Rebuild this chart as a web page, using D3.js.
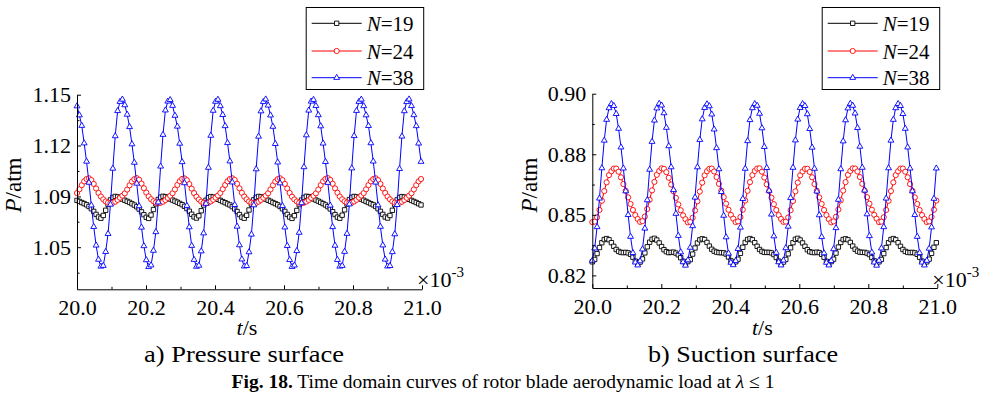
<!DOCTYPE html>
<html>
<head>
<meta charset="utf-8">
<script src="https://cdn.jsdelivr.net/npm/d3@7"></script>
<style>
  body { margin: 0; background: #fff; }
  svg { display: block; font-family: "Liberation Serif", "Times New Roman", serif; }
</style>
</head>
<body>
<svg id="chart" width="987" height="402"></svg>
<script>
// Sampling grid of the time series (time in units of 10^-3 s)
const T_START = 20.0;
const T_STEP = 0.006925;

const legendNumbers = ["19", "24", "38"];

const xTickValues = [20.0, 20.2, 20.4, 20.6, 20.8, 21.0];
const xTickLabels = ["20.0", "20.2", "20.4", "20.6", "20.8", "21.0"];
const xMinorValues = [20.1, 20.3, 20.5, 20.7, 20.9];

const yTicksA = [1.1520, 1.1187, 1.0853, 1.0520];
const yTickLabelsA = ["1.15", "1.12", "1.09", "1.05"];
const yMinorA = [1.1353, 1.1020, 1.0687, 1.0353];

const yTicksB = [0.900, 0.875, 0.850, 0.825];
const yTickLabelsB = ["0.90", "0.88", "0.85", "0.82"];
const yMinorB = [0.8875, 0.8625, 0.8375];

// Pressure surface, P / atm
const pressureN19 = [
  1.0827,1.0820,1.0813,1.0806,1.0798,1.0787,1.0772,1.0755,1.0735,1.0718,1.0710,1.0728,1.0762,1.0800,1.0830,1.0846,1.0853,1.0850,1.0843,1.0835,
  1.0828,1.0821,1.0814,1.0805,1.0796,1.0785,1.0770,1.0752,1.0733,1.0716,1.0709,1.0731,1.0767,1.0804,1.0833,1.0848,1.0854,1.0851,1.0844,1.0836,
  1.0829,1.0822,1.0815,1.0807,1.0799,1.0788,1.0773,1.0756,1.0736,1.0719,1.0711,1.0726,1.0759,1.0797,1.0828,1.0845,1.0852,1.0849,1.0842,1.0834,
  1.0827,1.0819,1.0812,1.0804,1.0797,1.0786,1.0771,1.0754,1.0734,1.0717,1.0710,1.0729,1.0764,1.0802,1.0831,1.0847,1.0853,1.0850,1.0843,1.0835,
  1.0828,1.0821,1.0813,1.0806,1.0798,1.0787,1.0772,1.0755,1.0735,1.0718,1.0709,1.0727,1.0761,1.0799,1.0829,1.0846,1.0854,1.0851,1.0844,1.0836,
  1.0829,1.0822,1.0814,1.0806,1.0797,1.0786,1.0771,1.0753,1.0734,1.0717,1.0710,1.0730,1.0765,1.0803,1.0832,1.0847,1.0853,1.0850,1.0843,1.0835,
  1.0828,1.0820,1.0813,1.0805,1.0798,1.0787,1.0772,1.0755,1.0735,1.0718,1.0711,1.0728,1.0762,1.0800,1.0830,1.0846,1.0852,1.0849,1.0842,1.0834,
  1.0827,1.0820,1.0813,1.0805,1.0797
];
const pressureN24 = [
  1.0875,1.0900,1.0927,1.0952,1.0967,1.0972,1.0960,1.0935,1.0905,1.0876,1.0852,1.0834,1.0820,1.0812,1.0809,1.0812,1.0819,1.0830,1.0844,1.0858,
  1.0873,1.0898,1.0926,1.0951,1.0966,1.0973,1.0962,1.0937,1.0907,1.0878,1.0853,1.0835,1.0821,1.0813,1.0810,1.0811,1.0818,1.0829,1.0843,1.0857,
  1.0874,1.0899,1.0928,1.0953,1.0968,1.0971,1.0959,1.0934,1.0904,1.0875,1.0851,1.0833,1.0819,1.0811,1.0808,1.0812,1.0820,1.0831,1.0845,1.0859,
  1.0876,1.0901,1.0928,1.0952,1.0967,1.0972,1.0961,1.0936,1.0906,1.0877,1.0852,1.0834,1.0820,1.0812,1.0809,1.0811,1.0819,1.0830,1.0844,1.0858,
  1.0874,1.0899,1.0926,1.0951,1.0966,1.0972,1.0960,1.0935,1.0905,1.0876,1.0851,1.0833,1.0820,1.0812,1.0809,1.0812,1.0819,1.0830,1.0843,1.0857,
  1.0873,1.0898,1.0927,1.0952,1.0968,1.0973,1.0961,1.0936,1.0906,1.0877,1.0852,1.0834,1.0821,1.0813,1.0810,1.0812,1.0820,1.0831,1.0845,1.0859,
  1.0875,1.0900,1.0927,1.0952,1.0967,1.0972,1.0960,1.0935,1.0905,1.0876,1.0852,1.0834,1.0820,1.0812,1.0809,1.0811,1.0818,1.0829,1.0844,1.0858,
  1.0874,1.0899,1.0927,1.0952,1.0967
];
const pressureN38 = [
  1.1445,1.1386,1.1317,1.1202,1.1082,1.0944,1.0795,1.0654,1.0532,1.0439,1.0394,1.0399,1.0490,1.0608,1.0800,1.1036,1.1249,1.1414,1.1474,1.1489,
  1.1452,1.1390,1.1309,1.1196,1.1075,1.0938,1.0790,1.0650,1.0528,1.0436,1.0391,1.0402,1.0498,1.0620,1.0815,1.1050,1.1258,1.1418,1.1476,1.1486,
  1.1448,1.1383,1.1312,1.1200,1.1079,1.0941,1.0792,1.0652,1.0530,1.0438,1.0393,1.0400,1.0494,1.0612,1.0806,1.1042,1.1252,1.1416,1.1475,1.1488,
  1.1446,1.1388,1.1315,1.1204,1.1084,1.0946,1.0798,1.0656,1.0534,1.0441,1.0395,1.0398,1.0488,1.0604,1.0796,1.1032,1.1246,1.1412,1.1473,1.1490,
  1.1450,1.1385,1.1311,1.1198,1.1077,1.0940,1.0791,1.0651,1.0529,1.0437,1.0392,1.0401,1.0496,1.0616,1.0810,1.1046,1.1255,1.1417,1.1476,1.1487,
  1.1447,1.1387,1.1314,1.1201,1.1080,1.0943,1.0794,1.0653,1.0531,1.0438,1.0394,1.0399,1.0491,1.0609,1.0802,1.1038,1.1250,1.1415,1.1474,1.1489,
  1.1446,1.1386,1.1316,1.1203,1.1083,1.0945,1.0796,1.0655,1.0533,1.0440,1.0395,1.0398,1.0489,1.0606,1.0798,1.1034,1.1247,1.1413,1.1473,1.1490,
  1.1447,1.1387,1.1315,1.1201,1.1081
];

// Suction surface, P / atm
const suctionN19 = [
  0.8306,0.8316,0.8340,0.8365,0.8385,0.8398,0.8402,0.8397,0.8385,0.8370,0.8357,0.8349,0.8345,0.8344,0.8345,0.8343,0.8337,0.8325,0.8309,0.8298,
  0.8305,0.8318,0.8343,0.8368,0.8387,0.8399,0.8403,0.8396,0.8384,0.8369,0.8356,0.8348,0.8344,0.8345,0.8346,0.8342,0.8335,0.8323,0.8308,0.8297,
  0.8307,0.8315,0.8338,0.8363,0.8384,0.8397,0.8401,0.8398,0.8386,0.8371,0.8358,0.8350,0.8346,0.8344,0.8344,0.8343,0.8338,0.8326,0.8310,0.8299,
  0.8306,0.8317,0.8341,0.8366,0.8386,0.8398,0.8402,0.8397,0.8385,0.8370,0.8357,0.8349,0.8345,0.8345,0.8345,0.8343,0.8336,0.8324,0.8309,0.8298,
  0.8305,0.8316,0.8339,0.8364,0.8385,0.8399,0.8403,0.8396,0.8384,0.8370,0.8356,0.8348,0.8345,0.8344,0.8346,0.8344,0.8337,0.8325,0.8308,0.8297,
  0.8307,0.8317,0.8342,0.8367,0.8386,0.8398,0.8401,0.8397,0.8386,0.8371,0.8358,0.8350,0.8346,0.8345,0.8345,0.8342,0.8336,0.8324,0.8310,0.8299,
  0.8306,0.8316,0.8340,0.8365,0.8385,0.8398,0.8402,0.8397,0.8385,0.8370,0.8357,0.8349,0.8345,0.8344,0.8345,0.8343,0.8337,0.8325,0.8309,0.8298,
  0.8306,0.8317,0.8341,0.8366,0.8385
];
const suctionN24 = [
  0.8470,0.8472,0.8490,0.8520,0.8558,0.8598,0.8634,0.8664,0.8680,0.8691,0.8691,0.8678,0.8655,0.8627,0.8599,0.8572,0.8545,0.8520,0.8499,0.8483,
  0.8471,0.8474,0.8493,0.8524,0.8562,0.8601,0.8636,0.8665,0.8681,0.8692,0.8690,0.8676,0.8653,0.8625,0.8597,0.8570,0.8543,0.8519,0.8498,0.8482,
  0.8469,0.8471,0.8488,0.8518,0.8556,0.8596,0.8633,0.8663,0.8680,0.8690,0.8691,0.8679,0.8656,0.8628,0.8600,0.8573,0.8546,0.8521,0.8500,0.8484,
  0.8470,0.8473,0.8491,0.8521,0.8559,0.8599,0.8635,0.8664,0.8681,0.8691,0.8692,0.8678,0.8654,0.8626,0.8598,0.8571,0.8544,0.8520,0.8499,0.8483,
  0.8471,0.8472,0.8489,0.8519,0.8557,0.8597,0.8633,0.8663,0.8679,0.8690,0.8690,0.8677,0.8655,0.8627,0.8599,0.8572,0.8545,0.8520,0.8499,0.8482,
  0.8469,0.8473,0.8492,0.8522,0.8560,0.8600,0.8635,0.8665,0.8681,0.8692,0.8691,0.8679,0.8656,0.8628,0.8600,0.8573,0.8546,0.8521,0.8500,0.8484,
  0.8470,0.8472,0.8490,0.8520,0.8558,0.8598,0.8634,0.8664,0.8680,0.8691,0.8691,0.8678,0.8655,0.8627,0.8599,0.8572,0.8545,0.8520,0.8499,0.8483,
  0.8470,0.8473,0.8491,0.8521,0.8559
];
const suctionN38 = [
  0.8311,0.8362,0.8450,0.8568,0.8693,0.8807,0.8893,0.8941,0.8958,0.8950,0.8917,0.8856,0.8779,0.8692,0.8598,0.8500,0.8410,0.8343,0.8304,0.8292,
  0.8309,0.8358,0.8444,0.8561,0.8687,0.8802,0.8890,0.8940,0.8959,0.8952,0.8920,0.8860,0.8784,0.8697,0.8603,0.8505,0.8414,0.8346,0.8305,0.8291,
  0.8313,0.8365,0.8454,0.8572,0.8697,0.8810,0.8895,0.8942,0.8957,0.8949,0.8915,0.8853,0.8776,0.8689,0.8595,0.8497,0.8408,0.8341,0.8303,0.8293,
  0.8310,0.8360,0.8448,0.8566,0.8691,0.8805,0.8892,0.8941,0.8958,0.8951,0.8918,0.8858,0.8781,0.8694,0.8600,0.8502,0.8412,0.8344,0.8305,0.8292,
  0.8312,0.8363,0.8452,0.8570,0.8695,0.8808,0.8894,0.8942,0.8958,0.8950,0.8916,0.8855,0.8778,0.8691,0.8597,0.8499,0.8409,0.8342,0.8303,0.8292,
  0.8310,0.8359,0.8446,0.8563,0.8689,0.8804,0.8891,0.8940,0.8959,0.8951,0.8919,0.8859,0.8782,0.8695,0.8601,0.8503,0.8413,0.8345,0.8304,0.8291,
  0.8311,0.8362,0.8450,0.8568,0.8693,0.8807,0.8893,0.8941,0.8958,0.8950,0.8917,0.8856,0.8779,0.8692,0.8598,0.8500,0.8410,0.8343,0.8304,0.8292,
  0.8311,0.8361,0.8449,0.8567,0.8692
];

const seriesColors = ["#000000", "#ff0000", "#0000ff"];
const seriesSymbols = [d3.symbolSquare, d3.symbolCircle, d3.symbolTriangle];
const symbolSizes = [19, 21, 15];

const panels = [
  {
    x0: 77, x1: 422, yTop: 94.7, yBot: 289.3,
    yDomain: [1.0244, 1.152], yTicks: yTicksA, yLabels: yTickLabelsA, yMinor: yMinorA,
    series: [pressureN19, pressureN24, pressureN38],
    legendX: 305.7, titleX: 21, caption: "a) Pressure surface", captionX: 244, captionW: 200
  },
  {
    x0: 592.3, x1: 937.3, yTop: 93.7, yBot: 288,
    yDomain: [0.8198, 0.90], yTicks: yTicksB, yLabels: yTickLabelsB, yMinor: yMinorB,
    series: [suctionN19, suctionN24, suctionN38],
    legendX: 821.7, titleX: 536.5, caption: "b) Suction surface", captionX: 743, captionW: 190
  }
];

const svg = d3.select("#chart");
const SERIF = "'Liberation Serif', 'Times New Roman', serif";
const TICK_FONT = 22;
const LEGEND_FONT = 21;

panels.forEach(p => {
  const g = svg.append("g");
  const x = d3.scaleLinear().domain([20, 21]).range([p.x0, p.x1]);
  const y = d3.scaleLinear().domain(p.yDomain).range([p.yBot, p.yTop]);

  // series: line + hollow markers, N=19 first so N=38 sits on top
  p.series.forEach((vals, si) => {
    const pts = vals.map((v, i) => [T_START + i * T_STEP, v]);
    const line = d3.line().x(d => x(d[0])).y(d => y(d[1]));
    g.append("path")
      .attr("d", line(pts))
      .attr("fill", "none")
      .attr("stroke", seriesColors[si])
      .attr("stroke-width", 1);
    const sym = d3.symbol().type(seriesSymbols[si]).size(symbolSizes[si]);
    g.append("g").selectAll("path")
      .data(pts)
      .join("path")
      .attr("transform", d => `translate(${x(d[0])},${y(d[1])})`)
      .attr("d", sym)
      .attr("fill", "#fff")
      .attr("stroke", seriesColors[si])
      .attr("stroke-width", 0.9);
  });

  // axes with inward ticks
  g.append("g")
    .attr("transform", `translate(0,${p.yBot})`)
    .call(d3.axisBottom(x).tickValues(xTickValues)
      .tickFormat((d, i) => xTickLabels[i])
      .tickSizeInner(-4).tickSizeOuter(0).tickPadding(10));
  g.append("g")
    .attr("transform", `translate(0,${p.yBot})`)
    .call(d3.axisBottom(x).tickValues(xMinorValues).tickFormat(() => "")
      .tickSizeInner(-2.5).tickSizeOuter(0))
    .call(a => a.select(".domain").remove());

  g.append("g")
    .attr("transform", `translate(${p.x0},0)`)
    .call(d3.axisLeft(y).tickValues(p.yTicks)
      .tickFormat((d, i) => p.yLabels[i])
      .tickSizeInner(-4).tickSizeOuter(0).tickPadding(6));
  g.append("g")
    .attr("transform", `translate(${p.x0},0)`)
    .call(d3.axisLeft(y).tickValues(p.yMinor).tickFormat(() => "")
      .tickSizeInner(-2.5).tickSizeOuter(0))
    .call(a => a.select(".domain").remove());

  g.selectAll(".tick text")
    .style("font-family", SERIF)
    .style("font-size", TICK_FONT + "px")
    .attr("fill", "#000");
  g.selectAll(".domain, .tick line").attr("stroke", "#000");

  // axis titles
  const yt = g.append("text")
    .attr("transform", `translate(${p.titleX},185) rotate(-90)`)
    .attr("text-anchor", "middle")
    .attr("font-size", 23);
  yt.append("tspan").attr("font-style", "italic").text("P");
  yt.append("tspan").text("/atm");

  const xt = g.append("text")
    .attr("x", (p.x0 + p.x1) / 2 - 2.5)
    .attr("y", 335)
    .attr("text-anchor", "middle")
    .attr("font-size", 22);
  xt.append("tspan").attr("font-style", "italic").text("t");
  xt.append("tspan").text("/s");

  // ×10^-3 multiplier
  const mt = g.append("text")
    .attr("x", p.x1 - 5)
    .attr("y", 286.5)
    .attr("font-size", 22);
  mt.append("tspan").text("×10");
  mt.append("tspan").attr("font-size", 15).attr("dy", -10).text("-3");

  // legend
  const lg = g.append("g").attr("transform", `translate(${p.legendX},7)`);
  lg.append("rect")
    .attr("x", 0.5).attr("y", 0.5)
    .attr("width", 117.5).attr("height", 82)
    .attr("fill", "#fff").attr("stroke", "#000").attr("stroke-width", 1);
  const rows = [16.3, 44, 70.7];
  legendNumbers.forEach((n, si) => {
    const ry = rows[si];
    lg.append("line")
      .attr("x1", 6).attr("x2", 56)
      .attr("y1", ry).attr("y2", ry)
      .attr("stroke", seriesColors[si]).attr("stroke-width", 1);
    lg.append("path")
      .attr("transform", `translate(31,${ry})`)
      .attr("d", d3.symbol().type(seriesSymbols[si]).size(symbolSizes[si]))
      .attr("fill", "#fff")
      .attr("stroke", seriesColors[si])
      .attr("stroke-width", 0.9);
    const t = lg.append("text")
      .attr("x", 61).attr("y", ry + 7.5)
      .attr("font-size", LEGEND_FONT);
    t.append("tspan").attr("font-style", "italic").text("N");
    t.append("tspan").text("=" + n);
  });

  // panel caption
  svg.append("text")
    .attr("x", p.captionX).attr("y", 362)
    .attr("text-anchor", "middle")
    .attr("font-size", 23)
    .attr("textLength", p.captionW)
    .attr("lengthAdjust", "spacingAndGlyphs")
    .text(p.caption);
});

// figure caption
const cap = svg.append("text")
  .attr("x", 503).attr("y", 388)
  .attr("text-anchor", "middle")
  .attr("font-size", 19.5);
cap.append("tspan").attr("font-weight", "bold").text("Fig. 18.");
cap.append("tspan").text(" Time domain curves of rotor blade aerodynamic load at ");
cap.append("tspan").attr("font-style", "italic").text("λ");
cap.append("tspan").text(" ≤ 1");
</script>
</body>
</html>
